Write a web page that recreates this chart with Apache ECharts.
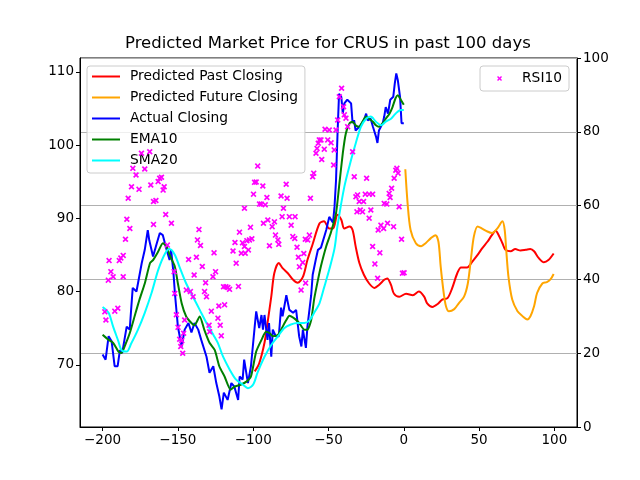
<!DOCTYPE html>
<html>
<head>
<meta charset="utf-8">
<script src="https://cdn.jsdelivr.net/npm/echarts@6/dist/echarts.min.js"></script>
<style>
  html, body { margin: 0; padding: 0; background: #fff; }
  #chart { width: 640px; height: 480px; }
</style>
</head>
<body>
<div id="chart"></div>
<script>
/* ---------------------------- data ---------------------------- */
const xTicks = [-200, -150, -100, -50, 0, 50, 100];
const priceTicks = [70, 80, 90, 100, 110];

// Actual Closing (blue), [day, price]
const actualClosing = [
  [-200, 71.4], [-198, 70.7], [-196, 73.9], [-194, 73.2], [-192, 69.8], [-190, 69.8], [-188.5, 72], [-187, 71.6],
  [-184, 75.2], [-182, 74.8], [-180, 80.5], [-177.5, 80], [-174, 83.9], [-172, 85.7], [-170, 88.4], [-169, 87],
  [-166.5, 84.8], [-164, 86.6], [-162, 88], [-160, 87.7], [-157.5, 85.7], [-155.5, 84.3], [-154.5, 85.7], [-153, 82.7],
  [-152, 79.8], [-150, 75.2], [-147.5, 72.5], [-145.5, 74.8], [-143, 75.7], [-141, 74.4], [-139, 75.7], [-136.5, 74.8],
  [-134.5, 73.4], [-131, 71.1], [-129, 68.9], [-126.5, 69.8], [-124.5, 67.5], [-122.5, 65.7], [-121, 63.9], [-119.5, 66.2],
  [-117, 65.2], [-114.5, 67.5], [-112.5, 67], [-110, 65.2], [-109, 68.4], [-107, 68], [-106, 70.7], [-103.5, 67.5],
  [-101.5, 69.8], [-99, 75.2], [-98, 77.3], [-96, 75], [-94.5, 76.8], [-93.5, 74.8], [-92.5, 76.8], [-90.5, 73.4],
  [-89.5, 75.7], [-88, 71.1], [-87, 74.8], [-85, 73.9], [-83, 73.9], [-81.5, 77.8], [-80.5, 76.6], [-78, 79.5],
  [-76, 77.5], [-73.5, 77.1], [-71.5, 77.5], [-69.5, 73.9], [-68, 72.5], [-67, 74.8], [-65, 72.3], [-64, 75.2],
  [-61.5, 79.5], [-60.5, 82.3], [-58.5, 84.3], [-57, 85.7], [-55, 86], [-51.5, 88.4], [-49.5, 90.2], [-47, 89.4],
  [-46, 91.6], [-45, 95.2], [-44, 101.6], [-43, 107], [-41.5, 106.6], [-40.5, 104.3], [-39.5, 105.7], [-37.5, 106.2],
  [-35, 105.7], [-34, 103], [-33, 103.4], [-32, 102], [-29.5, 102.5], [-26.5, 103.4], [-25, 104.3], [-24, 103.4],
  [-22, 103.6], [-20.5, 102.5], [-18.5, 101.2], [-17.5, 100.3], [-16.5, 102], [-14, 103], [-13, 103.9], [-12, 105.2],
  [-10.5, 104.3], [-9, 106.2], [-7, 106.6], [-6, 108.4], [-5, 109.8], [-4, 108.9], [-2.5, 106.6], [-1.5, 103], [0, 103]
];

// EMA10 (green)
const ema10 = [
  [-200, 74.1], [-196, 73.4], [-193, 73], [-189.5, 71.8], [-187.5, 71.6], [-185, 72.7], [-182, 74.3], [-178.5, 76.8],
  [-175.5, 78.9], [-172, 81.1], [-168.5, 83.9], [-166.5, 84.3], [-163, 85.5], [-160, 86.6], [-157.5, 86.2], [-155.5, 85],
  [-152, 83.4], [-150, 81.1], [-147.5, 78.4], [-144.5, 76.6], [-141, 75.7], [-139, 75.4], [-135.5, 76.6], [-132.5, 74.8],
  [-129, 73], [-125.5, 72], [-122.5, 69.8], [-119, 68.4], [-115, 66.6], [-112.5, 67], [-108, 67.3], [-104.5, 67.7],
  [-101.5, 68.4], [-98, 71.8], [-94.5, 73.4], [-91.5, 74.5], [-89, 74.3], [-87, 73.9], [-83.5, 74.1], [-81.5, 74.8],
  [-78, 76.1], [-76, 76.7], [-72.5, 76.3], [-69.5, 75.7], [-66, 74.8], [-64, 74.8], [-61.5, 76.1], [-59.5, 79],
  [-57, 81.6], [-55, 83.5], [-51.5, 86.2], [-48.5, 88], [-45, 90.7], [-43, 94.3], [-40.5, 98.9], [-38.5, 101.6],
  [-36, 103], [-34, 103.2], [-32, 102.7], [-29.5, 102.5], [-27.5, 103.2], [-25, 103.9], [-23, 103.6], [-20.5, 103.2],
  [-18.5, 102.7], [-16.5, 102.5], [-14, 103], [-12, 103.6], [-9.5, 104.3], [-7.5, 105.2], [-5.5, 106.4], [-4, 106.8],
  [-2, 106.2], [0, 105.5]
];

// SMA20 (cyan)
const sma20 = [
  [-200, 77.9], [-196, 77.1], [-193, 75.2], [-189.5, 73.2], [-187.5, 72], [-184, 71.8], [-181, 72.9], [-176.5, 74.8],
  [-172, 77.1], [-167.5, 79.8], [-163, 83], [-158.5, 85.2], [-155.5, 85.8], [-152, 85], [-149, 83.4], [-144.5, 81.1],
  [-140, 79.3], [-135.5, 77.5], [-131, 75.7], [-126.5, 74.1], [-123.5, 73], [-120, 71.1], [-115.5, 69.3], [-111.5, 68],
  [-107, 67.3], [-103.5, 66.8], [-100, 67.3], [-97, 69], [-92.5, 71.1], [-88, 72.7], [-83.5, 73.9], [-79.5, 75],
  [-75, 75.5], [-70.5, 75.7], [-66, 75.7], [-62.5, 76.1], [-59.5, 77.1], [-56, 78.4], [-53, 80.5], [-49.5, 83],
  [-46, 85.9], [-44, 89], [-39.5, 94.3], [-35, 98], [-32, 100.2], [-28.5, 102.5], [-25, 103.6], [-22, 103.9],
  [-18.5, 103.2], [-15, 102.7], [-12, 103.2], [-8.5, 103.6], [-5.5, 104.3], [-2, 104.8], [0, 104.8]
];

// Predicted Past Closing (red)
const predictedPast = [
  [-99, 69.1], [-96, 70.2], [-92.5, 73], [-90.5, 75.7], [-88, 79.3], [-86, 82.5], [-83, 83.9], [-80.5, 83.2],
  [-77, 82.5], [-73.5, 81.6], [-70.5, 81.2], [-67, 82], [-64, 84.3], [-60.5, 86.5], [-56, 89.3], [-53, 89.6],
  [-49.5, 88.6], [-47, 88.6], [-44, 90.5], [-41.5, 89.8], [-39.5, 88.6], [-36, 88.9], [-34, 88.4], [-32, 86.2],
  [-29.5, 83.9], [-26.5, 82.3], [-23, 81.1], [-19.5, 80.5], [-16.5, 80.9], [-13, 81.6], [-11, 81.8], [-8.5, 80.9],
  [-6.5, 79.7], [-3, 79.3], [1.5, 79.7], [6, 79.5], [10, 80], [13.5, 79.3], [15.5, 78.4], [19, 77.9],
  [22.5, 78.3], [25.5, 78.9], [29, 79.1], [32, 80.4], [35.5, 82.5], [38, 83.3], [42, 83.3], [45.5, 84.1],
  [49, 85], [52, 85.9], [55.5, 86.8], [58.5, 87.7], [61, 88.3], [63, 87.7], [65.5, 86.6], [67.5, 85.7],
  [71, 85.5], [74, 85.8], [77.5, 85.6], [81, 85.7], [84, 85.8], [86.5, 85.5], [89.5, 84.6], [93, 84],
  [96, 84.3], [99.5, 85.2]
];

// Predicted Future Closing (orange)
const predictedFuture = [
  [1, 96.7], [2.5, 92.1], [4.5, 88.4], [8, 86.6], [11.5, 86.2], [14.5, 86.6], [18, 87.3], [21, 87.7],
  [23, 86.8], [24.5, 83.4], [26.5, 79.8], [28, 78], [30, 77.3], [33.5, 77.6], [36.5, 78.4], [40, 79.3],
  [42.5, 81.1], [44.5, 84.3], [46.5, 87.5], [49, 88.9], [52, 88.6], [55.5, 88.2], [58.5, 88], [62, 88.6],
  [65.5, 89.6], [67, 88.4], [68, 85.7], [69.5, 82], [72, 78.9], [75.5, 77.3], [78.5, 76.7], [82, 76.2],
  [84, 76.6], [86.5, 78], [88.5, 79.8], [92, 81.1], [95, 81.3], [97.5, 81.7], [99.5, 82.4]
];

// RSI10 (magenta, right axis)
const rsi10 = [
  [-198.5, 31.2], [-197.8, 29.0], [-196.2, 39.8], [-195.7, 45.1], [-194.5, 42.1], [-193, 40.7], [-191.9, 31.4], [-189.9, 32.2],
  [-188.9, 45.1], [-187.9, 45.8], [-186.3, 46.5], [-186.3, 40.7], [-184.8, 50.9], [-183.9, 56.3], [-183, 62.0], [-181.9, 53.8],
  [-180.8, 65.1], [-179.9, 70.1], [-177.8, 68.3], [-175.8, 64.4], [-174.2, 74.2], [-172, 69.9], [-168.7, 74.6], [-168, 65.6],
  [-166.2, 54.9], [-166.2, 61.1], [-164.6, 61.4], [-163.1, 66.5], [-162.1, 67.4], [-160.9, 67.7], [-159.8, 64.2], [-159.1, 65.1],
  [-158.1, 57.6], [-157, 49.3], [-154.3, 55.2], [-152.5, 42.1], [-152.1, 36.2], [-151, 30.4], [-149.9, 27.0], [-148.8, 23.8],
  [-148.1, 21.8], [-147.4, 23.4], [-146.8, 20.0], [-146.2, 25.4], [-145.5, 29.0], [-144.4, 37.1], [-142.9, 45.4], [-141.7, 36.7],
  [-139.9, 35.3], [-139.2, 41.2], [-137.7, 46.0], [-137, 50.7], [-136, 53.5], [-135, 49.2], [-133.8, 43.5], [-132.3, 36.7],
  [-131.6, 39.1], [-131, 35.3], [-129.3, 27.6], [-128.9, 25.8], [-127.8, 31.4], [-126.7, 40.7], [-126, 47.2], [-125, 42.1],
  [-123.4, 29.5], [-122.8, 32.8], [-121.9, 27.6], [-121.2, 24.7], [-119.7, 38.0], [-119, 33.1], [-118.1, 38.0], [-116.8, 37.8],
  [-115.7, 37.3], [-113.4, 47.7], [-112.1, 50.0], [-111.3, 44.4], [-109.8, 38.1], [-109.1, 52.8], [-107.9, 47.1], [-107.1, 49.9],
  [-105.8, 59.3], [-105.8, 48.9], [-105.3, 47.1], [-104.2, 50.5], [-103.2, 48.0], [-102.5, 50.7], [-101.8, 54.1], [-100.9, 51.0],
  [-99.8, 63.1], [-99.1, 66.3], [-98, 66.4], [-97, 70.7], [-95.8, 60.4], [-94.7, 60.4], [-93.6, 65.3], [-93.2, 55.2],
  [-92, 60.2], [-90.9, 62.2], [-90.3, 56.1], [-89.2, 49.1], [-87.4, 54.3], [-85.9, 55.6], [-85.2, 52.0], [-83.6, 50.7],
  [-83, 49.5], [-81.5, 62.6], [-80.8, 57.0], [-79.9, 59.3], [-78.1, 65.8], [-77.5, 62.0], [-76, 57.0], [-74.8, 54.7],
  [-73.7, 51.6], [-72.4, 51.1], [-72.2, 57.0], [-70.9, 48.7], [-70, 46.0], [-69.3, 43.4], [-68.2, 37.1], [-67.1, 44.6],
  [-66.4, 47.0], [-65.4, 50.9], [-65.2, 39.0], [-63.8, 50.7], [-62.7, 52.0], [-62, 62.0], [-60.5, 67.8], [-59.8, 68.8],
  [-58.3, 74.2], [-57.6, 75.5], [-56.8, 76.9], [-56.1, 77.8], [-55, 77.8], [-54.5, 72.5], [-52.8, 75.3], [-52.3, 80.7],
  [-50.5, 77.8], [-49.5, 80.5], [-48.3, 77.0], [-46.6, 71.0], [-46.2, 75.1], [-45, 80.5], [-43.9, 83.2], [-42.8, 89.5],
  [-41.3, 91.8], [-40, 86.8], [-39.5, 84.6], [-38.4, 83.7], [-37.3, 81.4], [-34, 74.6], [-32.9, 67.8], [-31.8, 62.4],
  [-30.7, 62.9], [-31.1, 58.3], [-29.6, 61.1], [-28.9, 58.8], [-27.4, 58.3], [-26.7, 61.1], [-25.6, 63.1], [-24.7, 67.4],
  [-23, 63.1], [-23, 56.6], [-21.9, 58.8], [-20.7, 63.1], [-20.7, 48.9], [-19.2, 44.2], [-17.4, 40.3], [-17, 53.4],
  [-15.9, 47.2], [-15.2, 54.7], [-13.4, 53.8], [-13, 60.6], [-11.3, 60.4], [-10.8, 55.2], [-9.7, 63.3], [-9.1, 62.2],
  [-8.1, 64.7], [-6.8, 54.3], [-6.4, 67.4], [-5.3, 69.6], [-4.6, 70.1], [-3.8, 68.8], [-3.1, 59.7], [-1.5, 50.9],
  [-0.9, 41.7], [0.2, 41.8]
];

/* ------------------------------------ chart ------------------------------------ */
const FONT = 'DejaVu Sans';
// bold "x" marker, like matplotlib's marker='x'
const X_MARK = 'path://M0,2L2,0L5,3L8,0L10,2L7,5L10,8L8,10L5,7L2,10L0,8L3,5Z';
const minus = v => String(v).replace('-', '\u2212');

const chart = echarts.init(document.getElementById('chart'), null, { renderer: 'canvas' });

const lineSeries = (name, data, color, smooth) => ({
  name,
  type: 'line',
  data,
  yAxisIndex: 0,
  showSymbol: false,
  symbol: 'none',
  smooth: smooth,
  lineStyle: { color, width: 2 },
  itemStyle: { color },
  animation: false,
  z: 3
});

const axisCommon = {
  axisLine: { show: true, onZero: false, lineStyle: { color: '#000', width: 1 } },
  axisTick: { show: true, length: 4, lineStyle: { color: '#000' } },
  axisLabel: { color: '#000', fontFamily: FONT, fontSize: 13.5, margin: 6 }
};

chart.setOption({
  animation: false,
  backgroundColor: '#fff',
  title: {
    text: 'Predicted Market Price for CRUS in past 100 days',
    left: 125,
    top: 35,
    padding: 0,
    textStyle: { fontFamily: FONT, fontSize: 16.5, fontWeight: 'normal', color: '#000' }
  },
  grid: {
    left: 80, right: 63, top: 58, bottom: 53,
    show: true, borderColor: '#000', borderWidth: 1, backgroundColor: 'transparent'
  },
  legend: [
    {
      orient: 'vertical',
      left: 87,
      top: 66,
      padding: [3, 7, 5, 5],
      itemGap: 6,
      itemWidth: 28,
      itemHeight: 2,
      icon: 'rect',
      backgroundColor: 'rgba(255,255,255,0.8)',
      borderColor: '#cccccc',
      borderWidth: 1,
      borderRadius: 3,
      textStyle: { fontFamily: FONT, fontSize: 13.8, lineHeight: 15, color: '#000', padding: [0, 0, 0, 5] },
      data: ['Predicted Past Closing', 'Predicted Future Closing', 'Actual Closing', 'EMA10', 'SMA20']
    },
    {
      orient: 'vertical',
      right: 71,
      top: 66,
      padding: [5, 7, 5, 17],
      itemWidth: 5,
      itemHeight: 5,
      backgroundColor: 'rgba(255,255,255,0.8)',
      borderColor: '#cccccc',
      borderWidth: 1,
      borderRadius: 3,
      textStyle: { fontFamily: FONT, fontSize: 13.8, lineHeight: 15, color: '#000', padding: [0, 0, 0, 15] },
      data: [{ name: 'RSI10', icon: X_MARK }]
    }
  ],
  xAxis: {
    type: 'value',
    min: -215,
    max: 115,
    splitLine: { show: false },
    axisLine: axisCommon.axisLine,
    axisTick: Object.assign({ customValues: xTicks }, axisCommon.axisTick),
    axisLabel: Object.assign({ customValues: xTicks, formatter: minus }, axisCommon.axisLabel)
  },
  yAxis: [
    {
      type: 'value',
      position: 'left',
      min: 61.5,
      max: 111.9,
      splitLine: { show: false },
      axisLine: axisCommon.axisLine,
      axisTick: Object.assign({ customValues: priceTicks }, axisCommon.axisTick),
      axisLabel: Object.assign({ customValues: priceTicks }, axisCommon.axisLabel)
    },
    {
      type: 'value',
      position: 'right',
      min: 0,
      max: 100,
      interval: 20,
      splitLine: { show: true, lineStyle: { color: '#b0b0b0', width: 1 } },
      axisLine: axisCommon.axisLine,
      axisTick: axisCommon.axisTick,
      axisLabel: axisCommon.axisLabel
    }
  ],
  series: [
    lineSeries('Predicted Past Closing', predictedPast, '#ff0000', 0.3),
    lineSeries('Predicted Future Closing', predictedFuture, '#ffa500', 0.3),
    lineSeries('Actual Closing', actualClosing, '#0000ff', false),
    lineSeries('EMA10', ema10, '#008000', 0.2),
    lineSeries('SMA20', sma20, '#00ffff', 0.3),
    {
      name: 'RSI10',
      type: 'scatter',
      yAxisIndex: 1,
      data: rsi10,
      symbol: X_MARK,
      symbolSize: 6,
      itemStyle: { color: '#ff00ff', opacity: 1 },
      z: 4
    }
  ]
});
</script>
</body>
</html>
